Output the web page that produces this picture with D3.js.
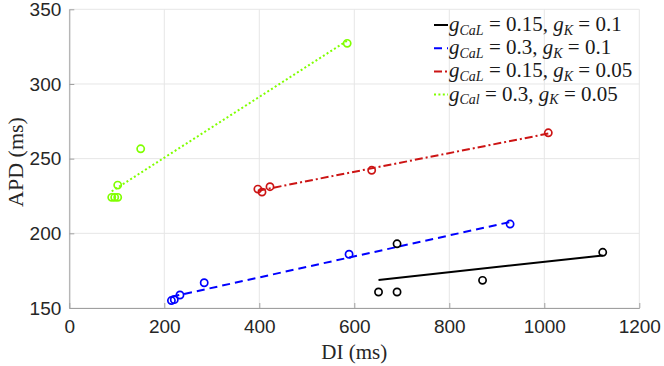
<!DOCTYPE html>
<html>
<head>
<meta charset="utf-8">
<script src="https://cdn.jsdelivr.net/npm/d3@7"></script>
<style>
  body { margin: 0; background: #fff; }
  svg { display: block; }
</style>
</head>
<body>
<div id="chart"></div>
<script>
// measured points (DI, APD) for each parameter set
const blackDI  = [651, 690, 690, 870, 1123];
const blackAPD = [160.7, 160.7, 193, 168.5, 187.3];
const blueDI   = [215, 221, 233, 284, 589, 928];
const blueAPD  = [155, 155.6, 158.7, 166.9, 186, 206.2];
const redDI    = [397, 405.7, 422.5, 636.6, 1008.4];
const redAPD   = [229.6, 227.6, 231.2, 242.2, 267.3];
const greenDI  = [89.3, 95.6, 101.9, 101.9, 150.3, 585];
const greenAPD = [224.1, 224.1, 224.1, 232.3, 256.6, 327.2];

// linear fit end points
const blackFitDI = [651, 1123],  blackFitAPD = [168.8, 185.2];
const blueFitDI  = [215, 928],   blueFitAPD  = [157.5, 207.6];
const redFitDI   = [397, 1008.4], redFitAPD  = [228.5, 266.8];
const greenFitDI = [89.3, 585],  greenFitAPD = [228.1, 329];

const xTicks = [0, 200, 400, 600, 800, 1000, 1200];
const yTicks = [150, 200, 250, 300, 350];

const legendLabels = [
  [["g", "i"], ["CaL", "s"], [" = 0.15, "], ["g", "i"], ["K", "s"], [" = 0.1"]],
  [["g", "i"], ["CaL", "s"], [" = 0.3, "], ["g", "i"], ["K", "s"], [" = 0.1"]],
  [["g", "i"], ["CaL", "s"], [" = 0.15, "], ["g", "i"], ["K", "s"], [" = 0.05"]],
  [["g", "i"], ["Cal", "s"], [" = 0.3, "], ["g", "i"], ["K", "s"], [" = 0.05"]]
];

const series = [
  { di: blackDI, apd: blackAPD, fx: blackFitDI, fy: blackFitAPD, color: "#000000", dash: null },
  { di: blueDI,  apd: blueAPD,  fx: blueFitDI,  fy: blueFitAPD,  color: "#0000ff", dash: "8,5" },
  { di: redDI,   apd: redAPD,   fx: redFitDI,   fy: redFitAPD,   color: "#cc1414", dash: "8,3,2,3" },
  { di: greenDI, apd: greenAPD, fx: greenFitDI, fy: greenFitAPD, color: "#80ff00", dash: "2,2.4" }
];

const width = 664, height = 366;
const mLeft = 69.3, mRight = 639.3, mTop = 9.3, mBottom = 308;

const x = d3.scaleLinear().domain([0, 1200]).range([mLeft, mRight]);
const y = d3.scaleLinear().domain([150, 350]).range([mBottom, mTop]);

const svg = d3.select("#chart").append("svg")
  .attr("width", width)
  .attr("height", height);

// grid
svg.append("g").selectAll("line")
  .data(xTicks).enter().append("line")
  .attr("x1", d => x(d)).attr("x2", d => x(d))
  .attr("y1", mTop).attr("y2", mBottom)
  .attr("stroke", "#e6e6e6").attr("stroke-width", 1);
svg.append("g").selectAll("line")
  .data(yTicks).enter().append("line")
  .attr("x1", mLeft).attr("x2", mRight)
  .attr("y1", d => y(d)).attr("y2", d => y(d))
  .attr("stroke", "#e6e6e6").attr("stroke-width", 1);

// axes (MATLAB style, ticks inward)
const xAxis = d3.axisBottom(x).tickValues(xTicks).tickFormat(d3.format("d"))
  .tickSizeInner(-5).tickSizeOuter(0).tickPadding(12);
const yAxis = d3.axisLeft(y).tickValues(yTicks).tickFormat(d3.format("d"))
  .tickSizeInner(-5).tickSizeOuter(0).tickPadding(8);

const gx = svg.append("g").attr("transform", `translate(0,${mBottom})`).call(xAxis);
const gy = svg.append("g").attr("transform", `translate(${mLeft},0)`).call(yAxis);
[gx, gy].forEach(g => {
  g.select(".domain").attr("stroke", "#a0a0a0").attr("stroke-width", 1);
  g.selectAll(".tick line").attr("stroke", "#a0a0a0");
  g.selectAll(".tick text")
    .attr("fill", "#262626")
    .style("font-family", "'Liberation Sans', Arial, sans-serif")
    .style("font-size", "19px");
});

// fit lines
const line = d3.line().x(d => x(d[0])).y(d => y(d[1]));
series.forEach(s => {
  svg.append("path")
    .datum(d3.zip(s.fx, s.fy))
    .attr("d", line)
    .attr("fill", "none")
    .attr("stroke", s.color)
    .attr("stroke-width", 2)
    .attr("stroke-dasharray", s.dash);
});

// markers
series.forEach(s => {
  svg.append("g").selectAll("circle")
    .data(d3.zip(s.di, s.apd)).enter().append("circle")
    .attr("cx", d => x(d[0]))
    .attr("cy", d => y(d[1]))
    .attr("r", 3.6)
    .attr("fill", "none")
    .attr("stroke", s.color)
    .attr("stroke-width", 1.7);
});

// axis labels
svg.append("text")
  .attr("x", (mLeft + mRight) / 2).attr("y", 359)
  .attr("text-anchor", "middle")
  .style("font-family", "'Liberation Serif', 'Times New Roman', serif")
  .style("font-size", "21px")
  .attr("fill", "#262626")
  .text("DI (ms)");

svg.append("text")
  .attr("transform", "translate(23,162) rotate(-90)")
  .attr("text-anchor", "middle")
  .style("font-family", "'Liberation Serif', 'Times New Roman', serif")
  .style("font-size", "22px")
  .attr("fill", "#262626")
  .text("APD (ms)");

// legend
const legend = svg.append("g");
legendLabels.forEach((parts, i) => {
  const s = series[i];
  const ly = 25 + i * 23.2;
  legend.append("line")
    .attr("x1", 434).attr("x2", 448)
    .attr("y1", ly).attr("y2", ly)
    .attr("stroke", s.color)
    .attr("stroke-width", 2)
    .attr("stroke-dasharray", s.dash);
  const t = legend.append("text")
    .attr("x", 449).attr("y", ly + 6)
    .attr("fill", "#1a1a1a")
    .style("font-family", "'Liberation Serif', 'Times New Roman', serif")
    .style("font-size", "21px")
    .style("white-space", "pre");
  let prevSub = false;
  parts.forEach(p => {
    const ts = t.append("tspan").text(p[0]);
    if (p[1] === "i") ts.style("font-style", "italic");
    if (p[1] === "s") {
      ts.style("font-style", "italic").style("font-size", "14px").attr("dy", 3.5);
    } else if (prevSub) {
      ts.attr("dy", -3.5);
    }
    prevSub = p[1] === "s";
  });
});
</script>
</body>
</html>
